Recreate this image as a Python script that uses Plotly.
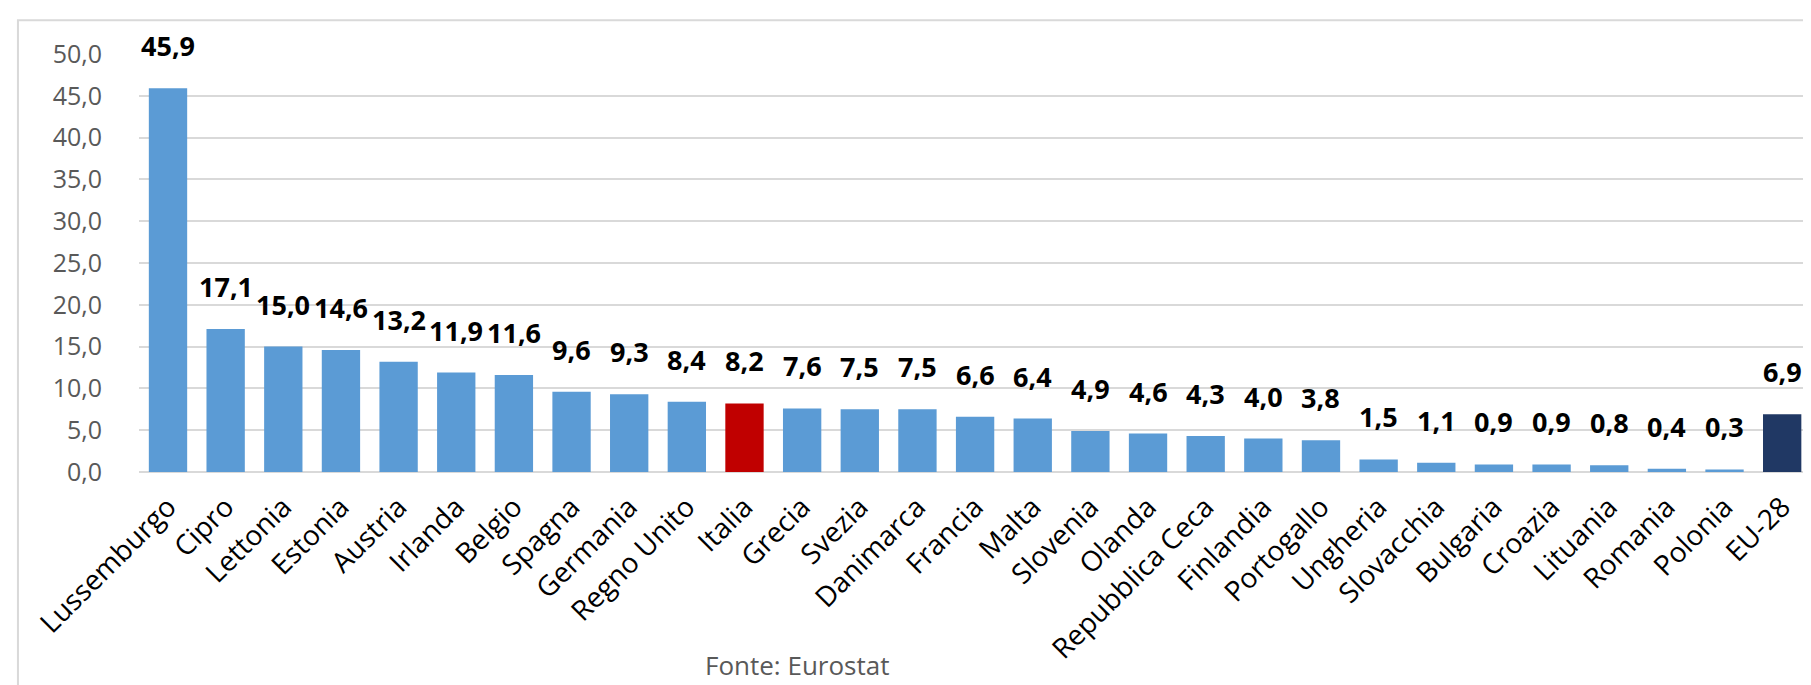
import plotly.graph_objects as go

paesi = ['Lussemburgo', 'Cipro', 'Lettonia', 'Estonia', 'Austria', 'Irlanda', 'Belgio',
         'Spagna', 'Germania', 'Regno Unito', 'Italia', 'Grecia', 'Svezia', 'Danimarca',
         'Francia', 'Malta', 'Slovenia', 'Olanda', 'Repubblica Ceca', 'Finlandia',
         'Portogallo', 'Ungheria', 'Slovacchia', 'Bulgaria', 'Croazia', 'Lituania',
         'Romania', 'Polonia', 'EU-28']
valori = [45.9, 17.1, 15.0, 14.6, 13.2, 11.9, 11.6, 9.6, 9.3, 8.4, 8.2, 7.6, 7.5, 7.5,
          6.6, 6.4, 4.9, 4.6, 4.3, 4.0, 3.8, 1.5, 1.1, 0.9, 0.9, 0.8, 0.4, 0.3, 6.9]
y_ticks = [0, 5, 10, 15, 20, 25, 30, 35, 40, 45, 50]

colori = []
for p in paesi:
    if p == 'Italia':
        colori.append('#C00000')
    elif p == 'EU-28':
        colori.append('#203864')
    else:
        colori.append('#5B9BD5')

fig = go.Figure()
fig.add_trace(go.Bar(x=paesi, y=valori, marker=dict(color=colori, line_width=0),
                     hoverinfo='x+y'))

# etichette dei valori sopra le barre
for p, v in zip(paesi, valori):
    fig.add_annotation(x=p, y=v, text='<b>' + f'{v:.1f}'.replace('.', ',') + '</b>',
                       showarrow=False, yanchor='bottom', yshift=22,
                       font=dict(family='Open Sans', size=27, color='#000000'))

# fonte
fig.add_annotation(text='Fonte: Eurostat', xref='paper', yref='paper', x=0.394, y=-0.462,
                   showarrow=False, xanchor='center', yanchor='middle',
                   font=dict(family='Open Sans', size=26, color='#595959'))

# bordo dell'area grafico
fig.add_shape(type='rect', xref='paper', yref='paper', x0=-0.0724, x1=1.0036,
              y0=-0.6, y1=1.0806, line=dict(color='#d9d9d9', width=2), layer='below')

fig.update_layout(
    width=1811, height=685,
    margin=dict(l=131, r=8, t=46, b=221, autoexpand=False),
    plot_bgcolor='white', paper_bgcolor='white',
    separators=', ',
    bargap=0.335,
    showlegend=False,
    font=dict(family='Open Sans'),
)
fig.update_yaxes(range=[0, 50], tickvals=y_ticks, tickformat='.1f',
                 showgrid=True, gridcolor='#d9d9d9', gridwidth=2,
                 zeroline=True, zerolinecolor='#d9d9d9', zerolinewidth=2,
                 showline=False, ticks='', ticklabelstandoff=36,
                 tickfont=dict(family='Open Sans', size=25, color='#595959'),
                 automargin=False)
fig.update_xaxes(tickangle=-45, showgrid=False, showline=False, ticks='',
                 ticklabelstandoff=12,
                 tickfont=dict(family='Open Sans', size=28, color='#000000'),
                 automargin=False)

fig.write_html('out.html')
